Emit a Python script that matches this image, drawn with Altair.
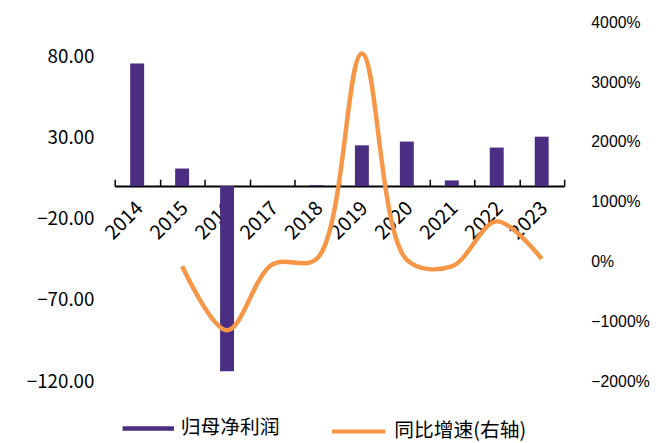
import altair as alt
import pandas as pd

years = ["2014", "2015", "2016", "2017", "2018", "2019", "2020", "2021", "2022", "2023"]
profit = [75.5, 10.8, -114.0, 0.1, 0.6, 25.1, 27.4, 3.5, 23.7, 30.4]
growth = [None, -78, -1150, -50, 50, 3480, 30, -80, 672, 45]
bar_name = "归母净利润"
line_name = "同比增速(右轴)"
left_ticks = [-120, -70, -20, 30, 80]
right_ticks = [-2000, -1000, 0, 1000, 2000, 3000, 4000]

PURPLE = "#4B2D82"
ORANGE = "#F79646"
CJK = "Noto Sans CJK SC"

df = pd.DataFrame({"year": years, "profit": profit, "growth": growth})
df["s1"] = bar_name
df["s2"] = line_name

W, H = 455, 363
ytop, ybot = 100.67, -120.0
zero_from_top = H * ytop / (ytop - ybot)
off_bottom = -(H - zero_from_top)
off_top = -zero_from_top

base = alt.Chart(df)

bars = base.mark_bar(width=alt.RelativeBandSize(0.31)).encode(
    x=alt.X("year:N", sort=years, title=None,
            scale=alt.Scale(paddingInner=0, paddingOuter=0),
            axis=alt.Axis(orient="bottom", offset=off_bottom, domain=False, ticks=False,
                          grid=False, labelAngle=-45, labelAlign="right",
                          labelBaseline="middle", labelPadding=19, labelOffset=3,
                          labelFont=CJK, labelFontSize=20, labelColor="black")),
    y=alt.Y("profit:Q", title=None,
            scale=alt.Scale(domain=[ybot, ytop], nice=False, zero=False),
            axis=alt.Axis(orient="left", values=left_ticks, format=".2f", domain=False,
                          ticks=False, grid=False, labelFont=CJK,
                          labelFontSize=19, labelPadding=21, labelColor="black")),
    color=alt.Color("s1:N", scale=alt.Scale(domain=[bar_name], range=[PURPLE]),
                    legend=alt.Legend(orient="none", legendX=8, legendY=385, title=None,
                                      symbolType="M-1,-0.09L1,-0.09L1,0.09L-1,0.09Z",
                                      symbolSize=2704, symbolStrokeWidth=0,
                                      labelFont=CJK, labelFontSize=20, labelColor="black",
                                      labelOffset=7, padding=0)),
)

line = base.mark_line(interpolate="catmull-rom", strokeWidth=4.5).encode(
    x=alt.X("year:N", sort=years, title=None,
            axis=alt.Axis(orient="top", offset=off_top, labels=False, ticks=True,
                          tickBand="extent", tickSize=7, tickColor="black", tickWidth=1.5,
                          domain=True, domainColor="black", domainWidth=2, grid=False)),
    y=alt.Y("growth:Q", title=None,
            scale=alt.Scale(domain=[-2000, 4000], nice=False, zero=False),
            axis=alt.Axis(orient="right", values=right_ticks, format="d",
                          labelExpr="datum.label + '%'", domain=False,
                          ticks=False, grid=False, labelFont="Liberation Sans",
                          labelFontSize=16, labelPadding=27, labelColor="black")),
    stroke=alt.Stroke("s2:N", scale=alt.Scale(domain=[line_name], range=[ORANGE]),
                      legend=alt.Legend(orient="none", legendX=218, legendY=385, title=None,
                                        symbolType="stroke", symbolSize=2916,
                                        symbolStrokeWidth=4,
                                        labelFont=CJK, labelFontSize=20, labelColor="black",
                                        labelOffset=7, padding=0)),
)

chart = alt.layer(bars, line).resolve_scale(
    y="independent"
).resolve_axis(
    x="independent", y="independent"
).properties(
    width=W, height=H,
    background="white",
    autosize=alt.AutoSizeParams(type="none"),
    padding={"left": 108, "top": 12, "right": 95, "bottom": 60},
).configure_view(strokeWidth=0, stroke="transparent")

chart.save("out.html", embed_options={"renderer": "svg", "actions": False})
